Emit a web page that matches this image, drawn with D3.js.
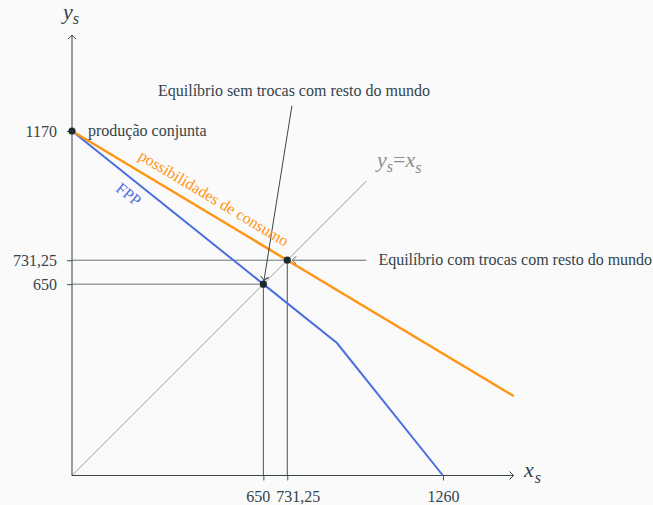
<!DOCTYPE html>
<html>
<head>
<meta charset="utf-8">
<script src="https://cdn.jsdelivr.net/npm/d3@7"></script>
<style>
  html, body { margin: 0; padding: 0; background: #fafafa; }
  svg { display: block; font-family: "Liberation Serif", "Times New Roman", serif; }
  .tick text { font-size: 16px; fill: #34444a; font-family: "Liberation Serif", serif; }
</style>
</head>
<body>
<svg id="chart" width="653" height="505"></svg>
<script>
// tick values on both axes
var xTicks = [650, 731.25, 1260];
var yTicks = [650, 731.25, 1170];
// fronteira de possibilidades de producao (FPP)
var fppX = [0, 650, 900, 1260];
var fppY = [1170, 650, 450, 0];
// possibilidades de consumo
var consumoX = [0, 731.25, 1500];
var consumoY = [1170, 731.25, 270];
// linha ys = xs
var diagonal = [0, 1000];
// pontos marcados
var pointsX = [0, 650, 731.25];
var pointsY = [1170, 650, 731.25];

buildChart();

function buildChart() {
    var svg = d3.select("#chart");
    var dark = "#34444a";

    // same unit size on both axes
    var x = d3.scaleLinear().domain([0, 1500]).range([72, 513.6]);
    var y = d3.scaleLinear().domain([0, 1500]).range([475.5, 33.9]);

    //open chevron arrow heads
    function addMarker(id, color) {
        svg.append("defs").append("marker")
            .attr("id", id)
            .attr("viewBox", "-6 -6 8 12")
            .attr("markerWidth", 8)
            .attr("markerHeight", 12)
            .attr("markerUnits", "userSpaceOnUse")
            .attr("refX", 0)
            .attr("refY", 0)
            .attr("orient", "auto")
            .append("path")
            .attr("d", "M-4,-4 Q-1.5,-1 0,0 Q-1.5,1 -4,4")
            .attr("fill", "none")
            .attr("stroke", color)
            .attr("stroke-width", 1);
    }
    addMarker("arrowDark", dark);
    addMarker("arrowGray", "#5e6b70");

    var line = d3.line().x(d => x(d[0])).y(d => y(d[1]));

    // guide lines down / left from the equilibria
    var guides = svg.append("g");
    guides.append("path")
        .attr("d", line([[0, 731.25], [731.25, 731.25]]))
        .attr("stroke", "#6a777b").attr("fill", "none");
    guides.append("path")
        .attr("d", line([[0, 650], [650, 650]]))
        .attr("stroke", "#6a777b").attr("fill", "none");
    guides.append("path")
        .attr("d", line([[650, 0], [650, 650]]))
        .attr("stroke", "#46545a").attr("fill", "none");
    guides.append("path")
        .attr("d", line([[731.25, 0], [731.25, 731.25]]))
        .attr("stroke", "#46545a").attr("fill", "none");

    // ys = xs
    svg.append("path")
        .attr("d", line(diagonal.map(d => [d, d])))
        .attr("stroke", "#9a9a9a")
        .attr("stroke-width", 1)
        .attr("fill", "none");

    // axes
    var xAxis = svg.append("g")
        .attr("transform", `translate(0,${y(0)})`)
        .call(d3.axisBottom(x).tickValues(xTicks).tickSizeInner(5).tickSizeOuter(0).tickPadding(10)
            .tickFormat(d => String(d).replace(".", ",")));
    xAxis.select(".domain").remove();
    xAxis.selectAll(".tick line").attr("stroke", "#46545a");
    // 650 and 731,25 are pushed apart so they do not overlap
    xAxis.selectAll(".tick text")
        .attr("dx", d => d === 650 ? -5.5 : d === 731.25 ? 10.5 : 0);

    var yAxis = svg.append("g")
        .attr("transform", `translate(${x(0)},0)`)
        .call(d3.axisLeft(y).tickValues(yTicks).tickSizeInner(5).tickSizeOuter(0).tickPadding(10)
            .tickFormat(d => String(d).replace(".", ",")));
    yAxis.select(".domain").remove();
    yAxis.selectAll(".tick line").attr("stroke", "#46545a");

    svg.append("path")
        .attr("d", line([[0, 0], [1500, 0]]))
        .attr("stroke", dark).attr("fill", "none")
        .attr("marker-end", "url(#arrowDark)");
    svg.append("path")
        .attr("d", line([[0, 0], [0, 1496]]))
        .attr("stroke", dark).attr("fill", "none")
        .attr("marker-end", "url(#arrowDark)");

    // curves
    svg.append("path")
        .attr("d", line(fppX.map((d, i) => [d, fppY[i]])))
        .attr("stroke", "#4a6ee0")
        .attr("stroke-width", 2)
        .attr("fill", "none");
    svg.append("path")
        .attr("d", line(consumoX.map((d, i) => [d, consumoY[i]])))
        .attr("stroke", "#ff9410")
        .attr("stroke-width", 2.4)
        .attr("fill", "none");

    // annotation arrows
    svg.append("path")
        .attr("d", line([[1000, 731.25], [748, 731.25]]))
        .attr("stroke", "#5e6b70").attr("fill", "none")
        .attr("marker-end", "url(#arrowGray)");
    svg.append("path")
        .attr("d", line([[747, 1256], [652, 662]]))
        .attr("stroke", "#263236").attr("stroke-width", 0.9).attr("fill", "none")
        .attr("marker-end", "url(#arrowDark)");

    // points
    svg.append("g").selectAll("circle")
        .data(pointsX)
        .enter().append("circle")
        .attr("cx", d => x(d))
        .attr("cy", (d, i) => y(pointsY[i]))
        .attr("r", 3.6)
        .attr("fill", "#1e2a2e");

    // text labels
    svg.append("text")
        .attr("x", x(0) + 16).attr("y", y(1170) + 5)
        .attr("font-size", 16).attr("fill", dark)
        .text("produção conjunta");
    svg.append("text")
        .attr("x", 158).attr("y", 96)
        .attr("font-size", 16).attr("fill", dark)
        .text("Equilíbrio sem trocas com resto do mundo");
    svg.append("text")
        .attr("x", x(1000) + 12).attr("y", y(731.25) + 5)
        .attr("font-size", 16).attr("fill", dark)
        .text("Equilíbrio com trocas com resto do mundo");

    //rotated labels along the lines
    var angC = Math.atan2(y(consumoY[1]) - y(consumoY[0]), x(consumoX[1]) - x(consumoX[0])) * 180 / Math.PI;
    svg.append("text")
        .attr("transform", `translate(${x(205)},${y(1170 - 0.6 * 205)}) rotate(${angC}) translate(0,-10)`)
        .attr("font-size", 16).attr("fill", "#ff9410")
        .text("possibilidades de consumo");
    var angF = Math.atan2(y(fppY[1]) - y(fppY[0]), x(fppX[1]) - x(fppX[0])) * 180 / Math.PI;
    svg.append("text")
        .attr("transform", `translate(${x(222)},${y(1170 - 0.8 * 222)}) rotate(${angF}) translate(0,19.5)`)
        .attr("text-anchor", "middle")
        .attr("font-size", 16).attr("fill", "#4a6ee0")
        .text("FPP");

    // axis names
    var yName = svg.append("text")
        .attr("x", 63).attr("y", 19)
        .attr("font-size", 22).attr("font-style", "italic").attr("fill", dark);
    yName.append("tspan").text("y");
    yName.append("tspan").attr("dy", 5).attr("font-size", 16).text("s");

    var xName = svg.append("text")
        .attr("x", 524).attr("y", 477)
        .attr("font-size", 22).attr("font-style", "italic").attr("fill", dark);
    xName.append("tspan").text("x");
    xName.append("tspan").attr("dx", 1).attr("dy", 6).attr("font-size", 16).text("s");

    var dName = svg.append("text")
        .attr("x", 377).attr("y", 167)
        .attr("font-size", 22).attr("font-style", "italic").attr("fill", "#8e8e8e");
    dName.append("tspan").text("y");
    dName.append("tspan").attr("dy", 5).attr("font-size", 16).text("s");
    dName.append("tspan").attr("dy", -5).attr("font-style", "normal").text("=");
    dName.append("tspan").text("x");
    dName.append("tspan").attr("dy", 6).attr("font-size", 16).text("s");
}
</script>
</body>
</html>
